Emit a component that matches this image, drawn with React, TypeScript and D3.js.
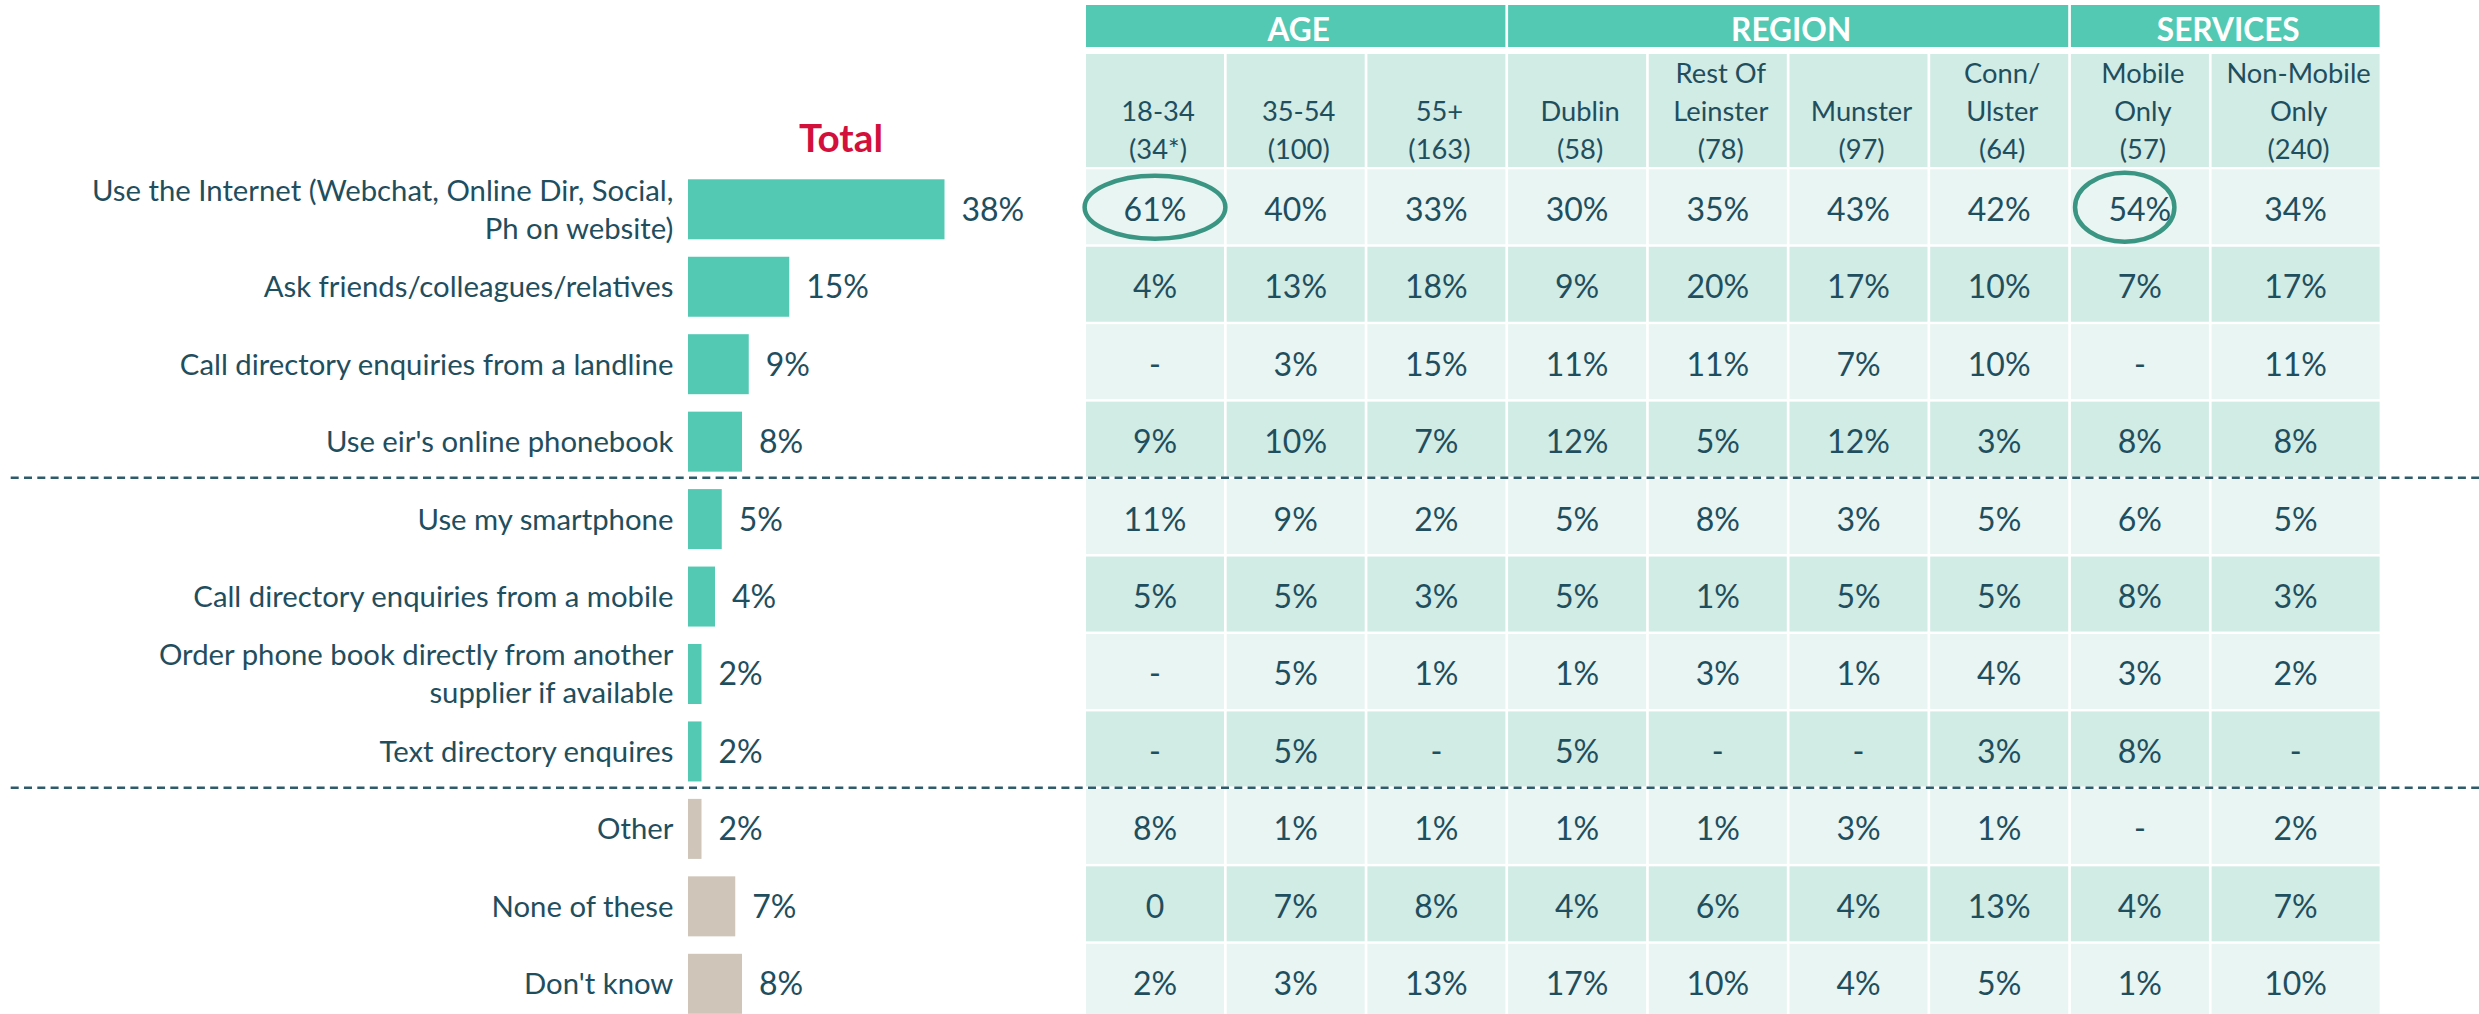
import * as d3 from 'd3';
import { useEffect, useRef } from 'react';

// ── Data ──────────────────────────────────────────────────────────────────
const categories = [
  'Use the Internet (Webchat, Online Dir, Social,\nPh on website)',
  'Ask friends/colleagues/relatives',
  'Call directory enquiries from a landline',
  "Use eir's online phonebook",
  'Use my smartphone',
  'Call directory enquiries from a mobile',
  'Order phone book directly from another\nsupplier if available',
  'Text directory enquires',
  'Other',
  'None of these',
  "Don't know"
];
const totals = [38, 15, 9, 8, 5, 4, 2, 2, 2, 7, 8];
const neutralAnswers = ['Other', 'None of these', "Don't know"];

const groupNames = ['AGE', 'REGION', 'SERVICES'];
const columnGroups = ['AGE', 'AGE', 'AGE', 'REGION', 'REGION', 'REGION', 'REGION', 'SERVICES', 'SERVICES'];
const columnLabels = ['18-34\n(34*)', '35-54\n(100)', '55+\n(163)', 'Dublin\n(58)', 'Rest Of\nLeinster\n(78)', 'Munster\n(97)', 'Conn/\nUlster\n(64)', 'Mobile\nOnly\n(57)', 'Non-Mobile\nOnly\n(240)'];

const tableValues = [
  ['61%', '40%', '33%', '30%', '35%', '43%', '42%', '54%', '34%'],
  ['4%', '13%', '18%', '9%', '20%', '17%', '10%', '7%', '17%'],
  ['-', '3%', '15%', '11%', '11%', '7%', '10%', '-', '11%'],
  ['9%', '10%', '7%', '12%', '5%', '12%', '3%', '8%', '8%'],
  ['11%', '9%', '2%', '5%', '8%', '3%', '5%', '6%', '5%'],
  ['5%', '5%', '3%', '5%', '1%', '5%', '5%', '8%', '3%'],
  ['-', '5%', '1%', '1%', '3%', '1%', '4%', '3%', '2%'],
  ['-', '5%', '-', '5%', '-', '-', '3%', '8%', '-'],
  ['8%', '1%', '1%', '1%', '1%', '3%', '1%', '-', '2%'],
  ['0', '7%', '8%', '4%', '6%', '4%', '13%', '4%', '7%'],
  ['2%', '3%', '13%', '17%', '10%', '4%', '5%', '1%', '10%']
];
const dividersAfter = [3, 7];
const highlights = [
  { row: 0, col: 0 },
  { row: 0, col: 7 }
];

// ── Style ─────────────────────────────────────────────────────────────────
const W = 2479;
const H = 1014;
const FONT = 'Lato, "Open Sans", sans-serif';
const INK = '#1F4E5E';
const TEAL = '#53C9B4';
const BEIGE = '#CFC5B8';
const ROW_DARK = '#D1EBE5';
const ROW_LIGHT = '#E8F5F2';
const RED = '#D3103C';
const RING = '#3A9583';
const LABEL_SIZE = 29.3;
const HEADER_SIZE = 27.3;
const VALUE_SIZE = 32;
// ellipse shape per highlight: [dx, rx, ry] as fractions of the cell
const ringShapes = [
  [0, 0.51, 0.42],
  [-0.11, 0.36, 0.46]
];

const App = () => {
  const svgRef = useRef<SVGSVGElement>(null);

  useEffect(() => {
    const svg = d3.select(svgRef.current);
    svg.selectAll('*').remove();

    const y = d3
      .scaleBand<number>()
      .domain(d3.range(categories.length))
      .range([169.3, 169.3 + 77.45 * (categories.length - 0.032)])
      .paddingInner(0.032);
    const rowH = y.bandwidth();
    const mid = (i: number) => (y(i) as number) + 40;

    const x = d3.scaleLinear().domain([0, 100]).range([688, 688 + 675]);

    // table columns
    const colWidths = columnLabels.map((_, i) => (i === columnLabels.length - 1 ? 168 : 138));
    const colGap = 2.7;
    const colLeft = colWidths.map((_, i) => 1086 + d3.sum(colWidths.slice(0, i)) + i * colGap);
    const colCenter = (i: number) => colLeft[i] + colWidths[i] / 2;

    // ── Left bar chart ──
    const bars = svg.append('g');
    bars
      .append('text')
      .attr('x', 841)
      .attr('y', 152.3)
      .attr('text-anchor', 'middle')
      .attr('font-family', FONT)
      .attr('font-weight', 700)
      .attr('font-size', 38.7)
      .attr('fill', RED)
      .text('Total');

    categories.forEach((cat, i) => {
      const lines = cat.split('\n');
      const t = bars
        .append('text')
        .attr('text-anchor', 'end')
        .attr('font-family', FONT)
        .attr('font-size', LABEL_SIZE)
        .attr('fill', INK);
      lines.forEach((ln, k) => {
        t.append('tspan')
          .attr('x', 673.4)
          .attr('y', mid(i) - ((lines.length - 1) * 38) / 2 + k * 38 + 0.358 * LABEL_SIZE)
          .text(ln);
      });

      bars
        .append('rect')
        .attr('x', x(0))
        .attr('y', (y(i) as number) + 10)
        .attr('width', x(totals[i]) - x(0))
        .attr('height', 60)
        .attr('fill', neutralAnswers.includes(cat) ? BEIGE : TEAL);

      bars
        .append('text')
        .attr('x', x(totals[i]) + 17)
        .attr('y', mid(i) + 0.358 * VALUE_SIZE)
        .attr('font-family', FONT)
        .attr('font-size', VALUE_SIZE)
        .attr('fill', INK)
        .text(`${totals[i]}%`);
    });

    // ── Table ──
    const table = svg.append('g');

    groupNames.forEach(name => {
      const cols = d3.range(columnGroups.length).filter(i => columnGroups[i] === name);
      const x0 = colLeft[cols[0]];
      const x1 = colLeft[cols[cols.length - 1]] + colWidths[cols[cols.length - 1]];
      table.append('rect').attr('x', x0).attr('y', 5).attr('width', x1 - x0).attr('height', 42).attr('fill', TEAL);
      table
        .append('text')
        .attr('x', (x0 + x1) / 2 + 3)
        .attr('y', 40.7)
        .attr('text-anchor', 'middle')
        .attr('font-family', FONT)
        .attr('font-weight', 700)
        .attr('font-size', 31.6)
        .attr('fill', '#fff')
        .text(name);
    });

    columnLabels.forEach((lab, c) => {
      table.append('rect').attr('x', colLeft[c]).attr('y', 54).attr('width', colWidths[c]).attr('height', 113).attr('fill', ROW_DARK);
      const lines = lab.split('\n');
      const t = table
        .append('text')
        .attr('text-anchor', 'middle')
        .attr('font-family', FONT)
        .attr('font-size', HEADER_SIZE)
        .attr('fill', INK);
      lines.forEach((ln, k) => {
        t.append('tspan')
          .attr('x', colCenter(c) + 3)
          .attr('y', 158.5 - (lines.length - 1 - k) * 38)
          .text(ln);
      });
    });

    tableValues.forEach((row, r) => {
      row.forEach((v, c) => {
        table
          .append('rect')
          .attr('x', colLeft[c])
          .attr('y', y(r) as number)
          .attr('width', colWidths[c])
          .attr('height', rowH)
          .attr('fill', r % 2 === 0 ? ROW_LIGHT : ROW_DARK);
        table
          .append('text')
          .attr('x', colCenter(c))
          .attr('y', mid(r) + 0.358 * VALUE_SIZE)
          .attr('text-anchor', 'middle')
          .attr('font-family', FONT)
          .attr('font-size', VALUE_SIZE)
          .attr('fill', INK)
          .text(v);
      });
    });

    // ── Dividers ──
    dividersAfter.forEach(r => {
      const yy = ((y(r) as number) + rowH + (y(r + 1) as number)) / 2;
      svg
        .append('line')
        .attr('x1', 10.7)
        .attr('x2', W)
        .attr('y1', yy)
        .attr('y2', yy)
        .attr('stroke', '#2E5B6A')
        .attr('stroke-width', 2.5)
        .attr('stroke-dasharray', '8 5.3');
    });

    // ── Highlight rings ──
    highlights.forEach((h, i) => {
      const [dx, rx, ry] = ringShapes[i];
      svg
        .append('ellipse')
        .attr('cx', colCenter(h.col) + dx * colWidths[h.col])
        .attr('cy', mid(h.row) - 2)
        .attr('rx', rx * colWidths[h.col])
        .attr('ry', ry * rowH)
        .attr('fill', 'none')
        .attr('stroke', RING)
        .attr('stroke-width', 4.5);
    });
  }, []);

  return <svg ref={svgRef} width={W} height={H} style={{ position: 'absolute', left: 0, top: 0, background: '#fff' }} />;
};

export default App;
